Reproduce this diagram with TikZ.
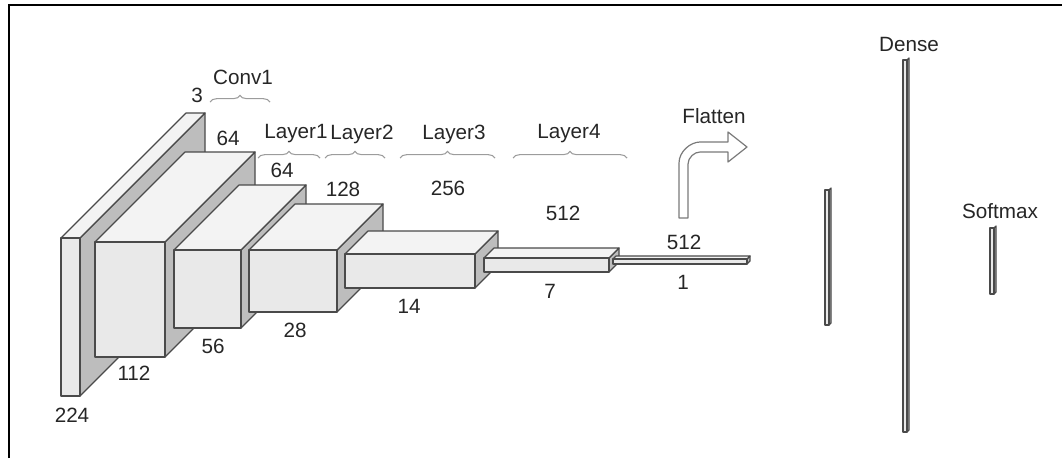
\documentclass[tikz,border=0pt]{standalone}
\usepackage{fontspec}
\setmainfont{Liberation Sans}
\usetikzlibrary{decorations.pathreplacing,positioning}
\definecolor{frontgray}{HTML}{E9E9E9}
\definecolor{topgray}{HTML}{F3F3F3}
\definecolor{sidegray}{HTML}{BDBDBD}
\definecolor{edgegray}{HTML}{4A4A4A}
\definecolor{bracegray}{HTML}{9C9C9C}
\definecolor{arrowgray}{HTML}{7A7A7A}

\begin{document}
\begin{tikzpicture}[x=0.75pt, y=-0.75pt, font=\fontsize{15.5}{18}\selectfont,
    face/.style={draw=edgegray, line width=0.9pt, line join=round},
    dimlabel/.style={text=black!85, inner sep=0pt},
    layerbrace/.style={draw=bracegray, line width=0.8pt, decorate, decoration={brace, amplitude=5pt}}]
  \useasboundingbox (0,0) rectangle (1062,458);
  \draw[line width=1.6pt] (9,458) -- (9,5) -- (1062,5);

  % feature maps: front face x1/y1/x2/y2 and depth
  \foreach \xa/\ya/\xb/\yb/\dep in {61/238/80/396/125, 95/242/165/357/90, 174/250/241/328/65,
      249/250/337/312/46, 345/254/475/288/23, 484/258/609/272/10, 613/259/747/264/3} {
    \draw[face, fill=sidegray] (\xb,\ya) -- ++(\dep,-\dep) -- ++(0,{\yb-\ya}) -- (\xb,\yb) -- cycle;
    \draw[face, fill=topgray] (\xa,\ya) -- ++(\dep,-\dep) -- ++({\xb-\xa},0) -- (\xb,\ya) -- cycle;
    \draw[face, fill=frontgray] (\xa,\ya) rectangle (\xb,\yb);
  }

  % dense vectors
  \foreach \xa/\ya/\yb in {825/190/325, 903/60/432, 990/228/294} {
    \draw[face, fill=sidegray] (\xa+4,\ya) -- ++(2,-2) -- ++(0,{\yb-\ya}) -- (\xa+4,\yb) -- cycle;
    \draw[face, fill=frontgray] (\xa,\ya) rectangle (\xa+4,\yb);
  }

  % flatten arrow
  \draw[draw=arrowgray, fill=white, line width=0.9pt, line join=round]
    (679,218) -- (679,163) .. controls (679,151.4) and (690.6,142) .. (700,142)
    -- (728,142) -- (728,132) -- (747,147) -- (728,162) -- (728,152) -- (700,152)
    .. controls (694.6,152) and (688,157.4) .. (688,164) -- (688,218) -- cycle;

  % sizes
  \node[dimlabel] (in-c) at (197,95) {3};
  \node[dimlabel] (in-s) at (72,415) {224};
  \node[dimlabel] (c1-c) at (228,138) {64};
  \node[dimlabel] (c1-s) at (134,373) {112};
  \node[dimlabel] (l1-c) at (282,170) {64};
  \node[dimlabel] (l1-s) at (213,346) {56};
  \node[dimlabel] (l2-c) at (343,189) {128};
  \node[dimlabel] (l2-s) at (295,330) {28};
  \node[dimlabel] (l3-c) at (448,188) {256};
  \node[dimlabel] (l3-s) at (409,306) {14};
  \node[dimlabel] (l4-c) at (563,213) {512};
  \node[dimlabel] (l4-s) at (550,291) {7};
  \node[dimlabel] (fl-c) at (684,242) {512};
  \node[dimlabel] (fl-s) at (683,282) {1};

  % stage names
  \node[dimlabel] (conv1) at (243,77) {Conv1};
  \node[dimlabel] (layer1) at (296,134) {Layer1};
  \node[dimlabel] (layer2) at (362,134) {Layer2};
  \node[dimlabel] (layer3) at (454,134) {Layer3};
  \node[dimlabel] (layer4) at (569,134) {Layer4};
  \node[dimlabel] (flatten) at (714,116) {Flatten};
  \node[dimlabel] (dense) at (909,44) {Dense};
  \node[dimlabel] (softmax) at (1000,211) {Softmax};

  % braces
  \foreach \xa/\xb/\yy in {210/270/102, 258/320/158, 325/385/158, 400/495/158, 513/627/158} {
    \draw[layerbrace] (\xa,\yy) -- (\xb,\yy);
  }
\end{tikzpicture}
\end{document}
